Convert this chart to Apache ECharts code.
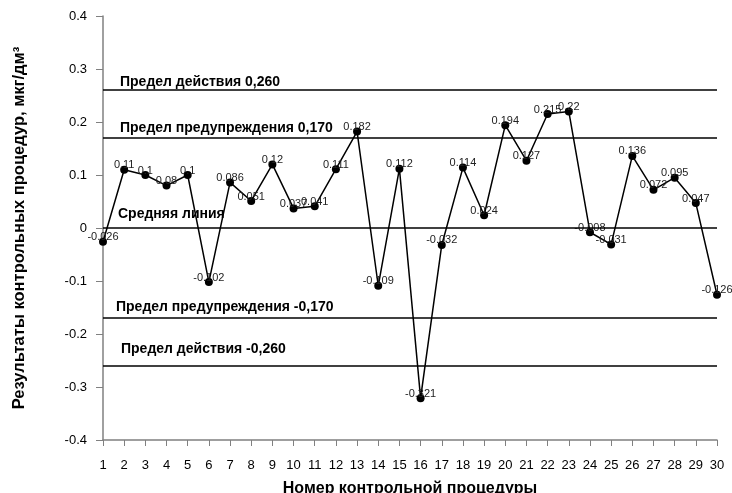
<!DOCTYPE html>
<html lang="ru">
<head>
<meta charset="UTF-8" />
<title>Контрольная карта</title>
<script src="https://cdn.jsdelivr.net/npm/echarts@6/dist/echarts.min.js"></script>
<style>
    html, body { margin: 0; padding: 0; background: #fff; }
    #chart { width: 732px; height: 493px; }
</style>
</head>
<body>
<div id="chart"></div>
<script>
    // номера процедур
    var procedures = [];
    for (var i = 1; i <= 30; i++) procedures.push(String(i));

    // результаты контрольных процедур
    var results = [-0.026, 0.11, 0.1, 0.08, 0.1, -0.102, 0.086, 0.051, 0.12, 0.037,
        0.041, 0.111, 0.182, -0.109, 0.112, -0.321, -0.032, 0.114, 0.024, 0.194,
        0.127, 0.215, 0.22, -0.008, -0.031, 0.136, 0.072, 0.095, 0.047, -0.126];

    // пределы
    var limitValues = [0.26, 0.17, 0, -0.17, -0.26];
    var limitNames = ['Предел действия 0,260', 'Предел предупреждения 0,170', 'Средняя линия',
        'Предел предупреждения -0,170', 'Предел действия -0,260'];

    // сдвиг подписей линий (по x, по y)
    var labelDist = [[17, 1], [17, 3], [15, 7], [13, 4], [18, 10]];

    var chart = echarts.init(document.getElementById('chart'));

    var limitData = limitValues.map(function (v, k) {
        return {
            yAxis: v,
            name: limitNames[k],
            label: { distance: labelDist[k] }
        };
    });

    var option = {
        backgroundColor: '#fff',
        animation: false,
        textStyle: { fontFamily: 'Liberation Sans, Arial, sans-serif' },
        grid: { left: 103, right: 15, top: 16, bottom: 53, outerBoundsMode: 'none' },
        xAxis: {
            type: 'category',
            data: procedures,
            boundaryGap: false,
            name: 'Номер контрольной процедуры',
            nameLocation: 'middle',
            nameGap: 41,
            nameTextStyle: { fontSize: 16, fontWeight: 'bold', color: '#000' },
            axisLine: { onZero: false, lineStyle: { color: '#808080', width: 1.5 } },
            axisTick: { alignWithLabel: true, length: 6, lineStyle: { color: '#808080' } },
            axisLabel: { fontSize: 13, color: '#000', margin: 19, interval: 0 },
            splitLine: { show: false }
        },
        yAxis: {
            type: 'value',
            min: -0.4,
            max: 0.4,
            interval: 0.1,
            name: 'Результаты контрольных процедур, мкг/дм³',
            nameLocation: 'middle',
            nameGap: 75,
            nameTextStyle: { fontSize: 16.5, fontWeight: 'bold', color: '#000' },
            axisLine: { show: true, lineStyle: { color: '#808080', width: 1.5 } },
            axisTick: { show: true, length: 7, lineStyle: { color: '#808080' } },
            axisLabel: { fontSize: 13, color: '#000', margin: 16 },
            splitLine: { show: false }
        },
        series: [{
            type: 'line',
            data: results,
            symbol: 'circle',
            symbolSize: 8,
            itemStyle: { color: '#000' },
            lineStyle: { color: '#000', width: 1.5 },
            label: {
                show: true,
                position: 'top',
                distance: -5,
                fontSize: 11,
                color: '#222'
            },
            markLine: {
                silent: true,
                symbol: 'none',
                lineStyle: { color: '#000', width: 1.5, type: 'solid' },
                label: {
                    show: true,
                    position: 'insideStartTop',
                    formatter: '{b}',
                    fontSize: 14,
                    fontWeight: 'bold',
                    color: '#000'
                },
                data: limitData
            }
        }]
    };

    chart.setOption(option);
</script>
</body>
</html>
